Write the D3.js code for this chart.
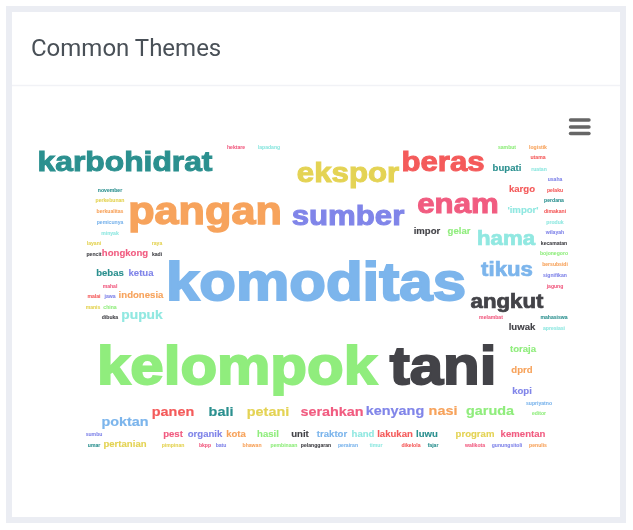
<!DOCTYPE html>
<html lang="en">
  <head>
    <meta charset="UTF-8" />
    <title>Common Themes</title>
    <style>
      html, body { margin: 0; padding: 0; background: #fff; }
      svg { display: block; filter: blur(0.35px); }
    </style>
  </head>
  <body>
    <svg id="svg" width="633" height="530"></svg>

    <script src="https://cdn.jsdelivr.net/npm/d3@7"></script>
    <script>
      const WIDTH = 633;
      const HEIGHT = 530;

      const PALETTE = ["#7cb5ec", "#434348", "#90ed7d", "#f7a35c", "#8085e9", "#f15c80", "#e4d354", "#2b908f", "#f45b5b", "#91e8e1"];

      const words = [
        "komoditas", "tani", "kelompok", "pangan", "sumber", "enam", "ekspor", "karbohidrat", "beras", "hama", "tikus", "angkut",
        "poktan", "panen", "bali", "petani", "serahkan", "kenyang", "nasi", "garuda", "pupuk",
        "toraja", "dprd", "kopi", "kargo", "'impor'", "bupati", "impor", "gelar", "luwak", "indonesia", "bebas", "ketua", "hongkong",
        "pest", "organik", "kota", "hasil", "unit", "traktor", "hand", "lakukan", "luwu", "program", "kementan", "pertanian",
        "hektare", "lapadang", "sambut", "logistik", "utama", "ruatan", "usaha", "pelaku", "perdana", "dimakani", "produk", "wilayah",
        "kecamatan", "bojonegoro", "bersubsidi", "signifikan", "jagung", "melambat", "mahasiswa", "apresiasi", "supriyatno", "editor",
        "perairan", "timur", "dikelola", "fajar", "walikota", "gunungsitoli", "penulis", "pelanggaran", "pembinaan", "bhawan", "batu", "bkpp", "pimpinan", "umar", "sumbu",
        "november", "perkebunan", "berkualitas", "pemicunya", "minyak", "layani", "raya", "pencit", "kadi", "mahal", "malai", "jawa", "manis", "china", "dibuka",
      ];

      const weights = [
        100, 100, 100, 72, 52, 52, 52, 53, 52, 37, 37, 37,
        24, 24, 24, 24, 24, 24, 24, 24, 23,
        16, 16, 16, 16, 16, 16, 16, 16, 16, 16, 16, 16, 16,
        16, 16, 16, 16, 16, 16, 16, 16, 16, 16, 16, 16,
        8.5, 8.5, 8.5, 8.5, 8.5, 8.5, 8.5, 8.5, 8.5, 8.5, 8.5, 8.5,
        8.5, 8.5, 8.5, 8.5, 8.5, 8.5, 8.5, 8.5, 8.5, 8.5,
        8.5, 8.5, 8.5, 8.5, 8.5, 8.5, 8.5, 8.5, 8.5, 8.5, 8.5, 8.5, 8.5, 8.5, 8.5,
        8.5, 8.5, 8.5, 8.5, 8.5, 8.5, 8.5, 8.5, 8.5, 8.5, 8.5, 8.5, 8.5, 8.5, 8.5,
      ];

      const colourIndex = [
        0, 1, 2, 3, 4, 5, 6, 7, 8, 9, 0, 1,
        0, 8, 7, 6, 5, 4, 3, 2, 9,
        2, 3, 4, 8, 9, 7, 1, 2, 1, 3, 7, 4, 5,
        5, 4, 3, 2, 1, 0, 9, 8, 7, 6, 5, 6,
        5, 9, 2, 3, 8, 9, 4, 8, 7, 8, 9, 4,
        1, 2, 3, 4, 5, 5, 7, 9, 0, 2,
        0, 9, 8, 7, 5, 4, 3, 1, 2, 3, 4, 5, 6, 7, 4,
        7, 6, 3, 0, 9, 6, 6, 1, 1, 5, 8, 4, 6, 2, 1,
      ];

      // cloud coordinates, origin at the middle of the cloud (word centre, baseline)
      const cloudX = [
        0, 127, -79, -111, 32, 142, 32, -191, 127, 190, 191, 191,
        -191, -143, -95, -48, 16, 79, 127, 174, -174,
        207, 206, 206, 206, 207, 191, 111, 143, 206, -175, -206, -175, -191,
        -143, -111, -80, -48, -16, 16, 47, 79, 111, 159, 207, -191,
        -80, -47, 191, 222, 222, 223, 239, 239, 238, 239, 239, 239,
        238, 238, 239, 239, 239, 175, 238, 238, 223, 223,
        32, 60, 95, 117, 159, 191, 222, 0, -32, -64, -95, -111, -143, -222, -222,
        -206, -206, -206, -206, -206, -222, -159, -222, -159, -206, -222, -206, -223, -206, -206,
      ];

      const cloudY = [
        7, 91, 91, -69, -68, -80, -111, -122, -122, -48, -17, 15,
        133, 123, 123, 123, 123, 122, 122, 122, 26,
        59, 80, 101, -101, -80, -122, -59, -59, 37, 5, -17, -17, -37,
        144, 144, 144, 144, 144, 144, 144, 144, 144, 144, 144, 154,
        -144, -144, -144, -144, -134, -122, -112, -101, -91, -80, -69, -59,
        -48, -38, -27, -16, -5, 26, 26, 37, 112, 122,
        154, 154, 154, 154, 154, 154, 154, 154, 154, 154, 154, 154, 154, 154, 143,
        -101, -91, -80, -69, -58, -48, -48, -37, -37, -5, 5, 5, 16, 16, 26,
      ];

      const svg = d3.select("#svg");

      // Card frame
      svg.append("rect").attr("x", 9).attr("y", 9).attr("width", 614).attr("height", 511)
        .attr("fill", "#fff").attr("stroke", "#ebedf3").attr("stroke-width", 6);
      svg.append("line").attr("x1", 12).attr("x2", 620).attr("y1", 85.5).attr("y2", 85.5)
        .attr("stroke", "#f1f2f6").attr("stroke-width", 1.5);

      svg.append("text").attr("x", 31).attr("y", 56)
        .attr("font-family", "Roboto").attr("font-size", 24).attr("font-weight", 400)
        .attr("fill", "#495057").text("Common Themes");

      // Menu icon
      svg.selectAll(".menu").data([120, 127, 133.5]).join("line").attr("class", "menu")
        .attr("x1", 570.5).attr("x2", 589).attr("y1", (d) => d).attr("y2", (d) => d)
        .attr("stroke", "#666").attr("stroke-width", 3.4).attr("stroke-linecap", "round");

      // Scales
      const xScale = d3.scaleLinear().domain([-316, 317]).range([0, WIDTH]);
      const yScale = d3.scaleLinear().domain([-293, 237]).range([0, HEIGHT]);
      const sizeScale = d3.scaleLinear().domain([0, 100]).range([0, 60]);
      const colourScale = d3.scaleOrdinal().domain(d3.range(10)).range(PALETTE);

      // the reference type is squat and heavy, so shrink the font and widen it back
      const SQUASH = 0.88;

      svg.append("g").attr("font-family", "'Liberation Sans', Arial, sans-serif").attr("font-weight", 700)
        .attr("text-anchor", "middle")
        .selectAll("text").data(words).join("text")
        .attr("transform", (d, i) => `translate(${xScale(cloudX[i])},${yScale(cloudY[i])}) scale(${1 / SQUASH},1)`)
        .attr("font-size", (d, i) => sizeScale(weights[i]) * SQUASH)
        .attr("stroke-width", (d, i) => sizeScale(weights[i]) * (weights[i] >= 30 ? 0.032 : 0.012))
        .attr("fill", (d, i) => colourScale(colourIndex[i]))
        .attr("stroke", (d, i) => colourScale(colourIndex[i]))
        .text((d) => d);
    </script>
  </body>
</html>
